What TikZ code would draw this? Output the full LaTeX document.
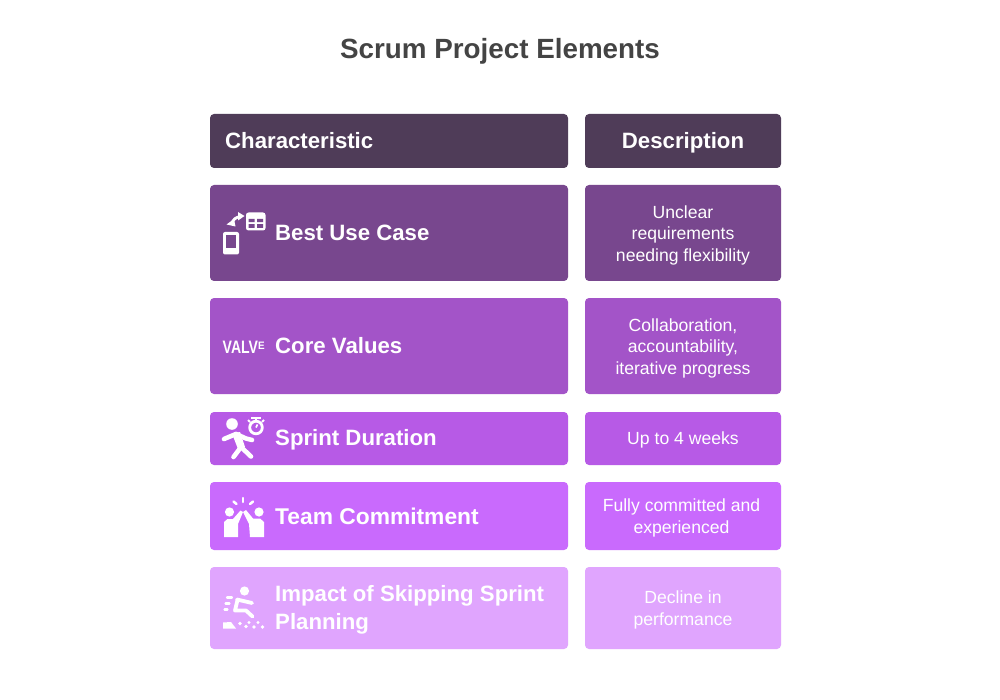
\documentclass[tikz,border=0pt]{standalone}
\usepackage{fontspec}
\setmainfont{Liberation Sans}
\definecolor{hdr}{HTML}{4F3C58}
\definecolor{rowa}{HTML}{78478E}
\definecolor{rowb}{HTML}{A354C8}
\definecolor{rowc}{HTML}{B75AE6}
\definecolor{rowd}{HTML}{C96AFD}
\definecolor{rowe}{HTML}{E0A5FE}
\definecolor{ttl}{HTML}{444444}
\tikzset{
  cell/.style={draw=none,rounded corners=4,inner sep=0,outer sep=0},
  lefttext/.style={anchor=west,text=white,font=\fontsize{22.2}{28.5}\selectfont\bfseries,inner sep=0,align=left},
  desctext/.style={text=white,font=\fontsize{17.6}{21.5}\selectfont,inner sep=0,align=center},
  hdrtext/.style={text=white,font=\fontsize{22.2}{28}\selectfont\bfseries,inner sep=0},
  ico/.style={draw=white,line cap=round,line join=round},
}
\begin{document}
\begin{tikzpicture}[x=1pt,y=-1pt]
\useasboundingbox (0,0) rectangle (1000,700);
\fill[white] (0,0) rectangle (1000,700);
\node[text=ttl,font=\fontsize{27.8}{32}\selectfont\bfseries,inner sep=0] (title) at (500,51) {Scrum Project Elements};
% boxes
\node[cell,fill=hdr,minimum width=358,minimum height=54] (h1) at (389,141) {};
\node[cell,fill=hdr,minimum width=196,minimum height=54] (h2) at (683,141) {};
\node[cell,fill=rowa,minimum width=358,minimum height=96] (a1) at (389,233) {};
\node[cell,fill=rowa,minimum width=196,minimum height=96] (a2) at (683,233) {};
\node[cell,fill=rowb,minimum width=358,minimum height=96] (b1) at (389,346) {};
\node[cell,fill=rowb,minimum width=196,minimum height=96] (b2) at (683,346) {};
\node[cell,fill=rowc,minimum width=358,minimum height=53] (c1) at (389,438.5) {};
\node[cell,fill=rowc,minimum width=196,minimum height=53] (c2) at (683,438.5) {};
\node[cell,fill=rowd,minimum width=358,minimum height=68] (d1) at (389,516) {};
\node[cell,fill=rowd,minimum width=196,minimum height=68] (d2) at (683,516) {};
\node[cell,fill=rowe,minimum width=358,minimum height=82] (e1) at (389,608) {};
\node[cell,fill=rowe,minimum width=196,minimum height=82] (e2) at (683,608) {};
% text
\node[lefttext] (th1) at (225,141) {Characteristic};
\node[hdrtext] (th2) at (683,143) {Description};
\node[lefttext] (ta1) at (275,233) {Best Use Case};
\node[desctext] (ta2) at (683,235) {Unclear\\requirements\\needing flexibility};
\node[lefttext] (tb1) at (275,346) {Core Values};
\node[desctext] (tb2) at (683,348) {Collaboration,\\accountability,\\iterative progress};
\node[lefttext] (tc1) at (275,440) {Sprint Duration};
\node[desctext] (tc2) at (683,440) {Up to 4 weeks};
\node[lefttext,font=\fontsize{22.8}{28.5}\selectfont\bfseries] (td1) at (275,516) {Team Commitment};
\node[desctext] (td2) at (681.5,518) {Fully committed and\\experienced};
\node[lefttext] (te1) at (275,610) {Impact of Skipping Sprint\\Planning};
\node[desctext] (te2) at (683,610) {Decline in\\performance};
% icon: best use case
\fill[white,rounded corners=2] (223,232) rectangle (239,254.5);
\fill[rowa] (226,235) rectangle (236,248);
\fill[white,rounded corners=2.5] (246,212.5) rectangle (265.5,230.5);
\fill[rowa] (248.5,219) rectangle (254.5,222.2) (257,219) rectangle (263,222.2);
\fill[rowa] (248.5,224.2) rectangle (254.5,228) (257,224.2) rectangle (263,228);
\draw[white,line width=2.8] (232,223) .. controls (233.5,219) and (236,217.5) .. (240,216.5);
\fill[white] (226.5,224.5) -- (234,219) -- (235.5,226.5) -- cycle;
\fill[white] (244.5,216) -- (238,212) -- (238,220.5) -- cycle;
% icon: core values
\node[text=white,font=\fontsize{18}{20}\selectfont\bfseries,inner sep=0,anchor=west] (vv) at (222.5,347) {\scalebox{0.78}[1]{VALV}\raisebox{4pt}{\scalebox{0.55}[0.6]{E}}};
% icon: sprint duration
\fill[white] (232,424) circle (5.8);
\draw[ico,line width=4.6] (224,439) -- (236,434) -- (241,447) -- (233.5,457);
\fill[white] (232,433.5) -- (240,432) -- (245,447) -- (238,449) -- cycle;
\draw[ico,line width=4.6] (236,434) -- (246,438.5) -- (252,440);
\draw[ico,line width=4.6] (241,447) -- (251,456.5);
\draw[ico,line width=2.8] (256,427.5) circle (6.3);
\draw[white,line width=1.6] (256,427.5) -- (257.5,424.5);
\draw[white,line width=2.2] (251,418) -- (261,418);
\draw[white,line width=2.2] (256,418) -- (256,421);
\draw[white,line width=2] (262,422) -- (264,420);
\draw[white,line width=2] (250,422) -- (248,420);
% icon: team commitment
\fill[white] (229.5,512) circle (4.6) (259,512) circle (4.6);
\fill[white] (224,537) -- (224,522) -- (227.5,519) -- (233,519) -- (240.5,510.5) -- (243,512) -- (238,524) -- (238,537) -- cycle;
\fill[white] (264,537) -- (264,522) -- (260,518.5) -- (253,518.5) -- (246,510) -- (243,512) -- (249,524) -- (250,537) -- cycle;
\draw[ico,line width=2.5] (243,498) -- (243,502);
\draw[ico,line width=2.5] (233.5,501.5) -- (236.5,504);
\draw[ico,line width=2.5] (253,501.5) -- (250,504);
% icon: skipping
\fill[white] (244.5,591) circle (4.6);
\draw[ico,line width=3.8] (237,599.5) -- (252,603);
\draw[ico,line width=3.8] (237.5,600) -- (235,610.5) -- (246,610.5) -- (252.5,616.5);
\draw[ico,line width=2.2] (227,597.5) -- (232,597.5) (225.5,603.5) -- (229.5,603.5) (224.5,609.5) -- (227.5,609.5);
\fill[white] (223,628.5) -- (223,622.5) -- (231,622) -- (236,628.5) -- cycle;
\fill[white] (240,623.5) circle (1.9) (246,626.5) circle (1.9) (249,622.5) circle (1.7) (254,627) circle (1.8) (258,622.5) circle (1.6) (262.5,627) circle (1.8);
\end{tikzpicture}
\end{document}
